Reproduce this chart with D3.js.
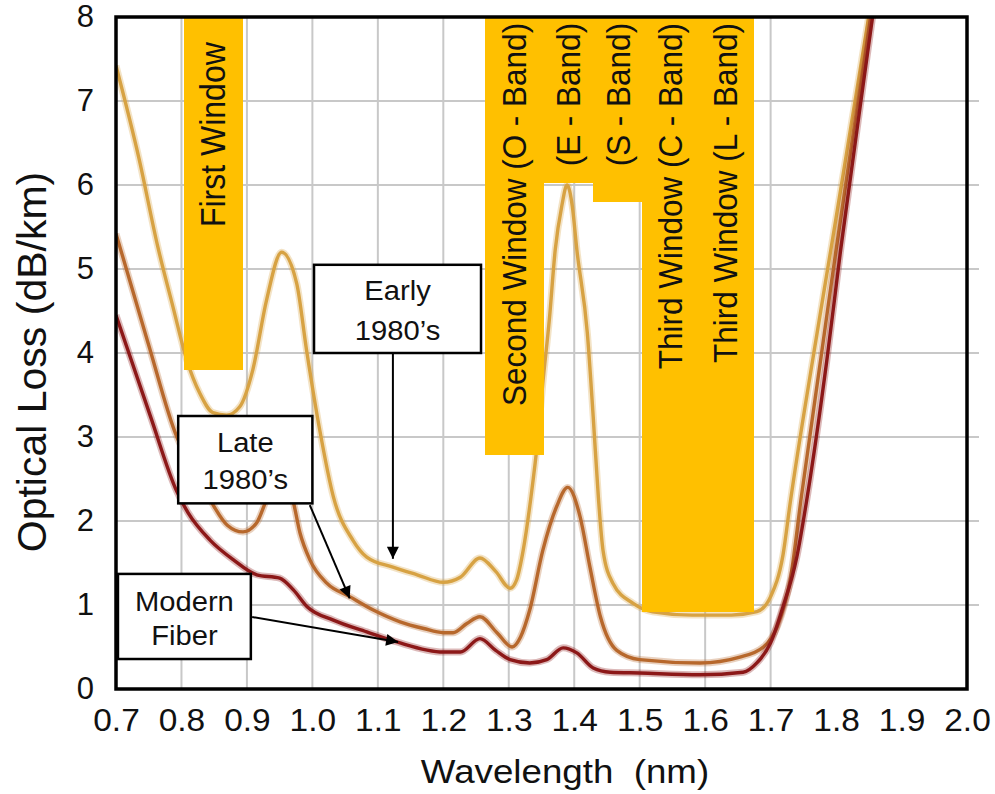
<!DOCTYPE html>
<html>
<head>
<meta charset="utf-8">
<script src="https://cdn.jsdelivr.net/npm/d3@7"></script>
<style>
  html, body { margin: 0; padding: 0; background: #fff; }
  svg { display: block; font-family: "Liberation Sans", Arial, sans-serif; }
</style>
</head>
<body>
<svg id="chart" width="995" height="794"></svg>
<script>
// ---------- data ----------
const xTicks = [0.7, 0.8, 0.9, 1.0, 1.1, 1.2, 1.3, 1.4, 1.5, 1.6, 1.7, 1.8, 1.9, 2.0];
const yTicks = [0, 1, 2, 3, 4, 5, 6, 7, 8];
const xGrid = [0.8, 0.9, 1.0, 1.1, 1.2, 1.3, 1.4, 1.5, 1.6, 1.7];
const yGrid = [1, 2, 3, 4, 5, 6, 7];

const bandNames  = ["First Window", "Second Window (O - Band)", "(E - Band)", "(S - Band)", "Third Window (C - Band)", "Third Window (L - Band)"];
const bandStart  = [0.805, 1.265, 1.351, 1.429, 1.504, 1.59];
const bandEnd    = [0.892, 1.351, 1.429, 1.504, 1.59, 1.672];
const bandBottom = [3.8, 2.79, 6.02, 5.8, 0.92, 0.92];
const bandLabelTop = [7.7, 7.93, 7.93, 7.93, 7.93, 7.93];

const earlyX = [0.70, 0.735, 0.764, 0.787, 0.808, 0.828, 0.848, 0.869, 0.889, 0.909, 0.93, 0.953, 0.976, 0.991, 1.012, 1.032, 1.062, 1.083, 1.123, 1.16, 1.2, 1.226, 1.256, 1.28, 1.302, 1.312, 1.322, 1.334, 1.344, 1.352, 1.362, 1.371, 1.381, 1.389, 1.397, 1.404, 1.42, 1.429, 1.437, 1.444, 1.459, 1.49, 1.52, 1.58, 1.64, 1.679, 1.70, 1.719, 1.73, 1.766, 1.792, 1.849, 1.862];
const earlyY = [7.42, 6.32, 5.26, 4.55, 3.92, 3.52, 3.29, 3.26, 3.36, 3.8, 4.63, 5.2, 4.83, 4.04, 3.05, 2.29, 1.77, 1.57, 1.45, 1.36, 1.27, 1.33, 1.56, 1.4, 1.2, 1.3, 1.65, 2.29, 2.95, 3.64, 4.4, 5.23, 5.75, 6.0, 5.75, 5.23, 4.24, 3.24, 2.27, 1.65, 1.26, 1.02, 0.92, 0.88, 0.88, 0.92, 1.1, 1.6, 2.22, 4.0, 5.23, 7.96, 8.6];

const lateX = [0.70, 0.749, 0.793, 0.82, 0.844, 0.87, 0.894, 0.915, 0.93, 0.95, 0.97, 0.981, 0.996, 1.022, 1.057, 1.093, 1.134, 1.17, 1.2, 1.215, 1.236, 1.256, 1.282, 1.305, 1.318, 1.332, 1.352, 1.373, 1.39, 1.409, 1.424, 1.44, 1.465, 1.5, 1.592, 1.653, 1.689, 1.71, 1.73, 1.747, 1.777, 1.80, 1.852, 1.864];
const lateY = [5.42, 4.12, 3.0, 2.6, 2.25, 1.95, 1.87, 1.98, 2.25, 2.5, 2.25, 1.86, 1.54, 1.26, 1.1, 0.94, 0.8, 0.72, 0.67, 0.67, 0.78, 0.86, 0.67, 0.5, 0.62, 0.94, 1.65, 2.17, 2.4, 2.05, 1.45, 0.86, 0.46, 0.35, 0.31, 0.38, 0.5, 0.74, 1.3, 2.29, 3.95, 5.23, 7.96, 8.6];

const modernX = [0.70, 0.752, 0.793, 0.81, 0.844, 0.879, 0.915, 0.95, 0.971, 0.992, 1.032, 1.083, 1.129, 1.2, 1.226, 1.256, 1.28, 1.302, 1.332, 1.358, 1.383, 1.404, 1.429, 1.455, 1.5, 1.592, 1.658, 1.679, 1.70, 1.719, 1.74, 1.756, 1.786, 1.807, 1.855, 1.866];
const modernY = [4.45, 3.26, 2.35, 2.1, 1.77, 1.54, 1.36, 1.32, 1.18, 0.98, 0.82, 0.68, 0.56, 0.44, 0.44, 0.6, 0.46, 0.35, 0.31, 0.35, 0.49, 0.43, 0.25, 0.2, 0.19, 0.17, 0.2, 0.31, 0.55, 0.98, 1.57, 2.29, 3.92, 5.23, 7.96, 8.6];

const seriesNames  = ["Early 1980's", "Late 1980's", "Modern Fiber"];
const seriesColors = ["#d7a243", "#b7682c", "#8c1818"];

// annotation callouts (data coordinates)
const noteLines = [["Early", "1980\u2019s"], ["Late", "1980\u2019s"], ["Modern", "Fiber"]];
const noteLineGap = [40, 37, 34];
const noteBoxX0 = [1.0025, 0.795, 0.703];
const noteBoxX1 = [1.2576, 1.0, 0.906];
const noteBoxY0 = [5.05, 3.25, 1.37];
const noteBoxY1 = [4.0, 2.21, 0.357];
const arrowFromX = [1.123, 0.996, 0.908];
const arrowFromY = [4.0, 2.19, 0.857];
const arrowToX   = [1.123, 1.057, 1.131];
const arrowToY   = [1.55, 1.08, 0.56];

// ---------- chart ----------
const svg = d3.select("#chart");
const x = d3.scaleLinear().domain([0.7, 2.0]).range([116, 967]);
const y = d3.scaleLinear().domain([0, 8]).range([689, 17]);

const defs = svg.append("defs");
defs.append("clipPath").attr("id", "plotclip").append("rect")
  .attr("x", x(0.7)).attr("y", y(8)).attr("width", x(2.0) - x(0.7)).attr("height", y(0) - y(8));
defs.append("marker").attr("id", "arrow").attr("viewBox", "0 0 10 10")
  .attr("refX", 10).attr("refY", 5).attr("markerWidth", 7.5).attr("markerHeight", 6)
  .attr("markerUnits", "strokeWidth").attr("orient", "auto")
  .append("path").attr("d", "M0,0 L10,5 L0,10 Z").attr("fill", "#000");

// grid
svg.append("g").selectAll("line").data(yGrid).join("line")
  .attr("x1", x(0.7)).attr("x2", x(2.0) + 12)
  .attr("y1", d => y(d)).attr("y2", d => y(d))
  .attr("stroke", "#c8c8c8").attr("stroke-width", 2);
svg.append("g").selectAll("line").data(xGrid).join("line")
  .attr("x1", d => x(d)).attr("x2", d => x(d))
  .attr("y1", y(8)).attr("y2", y(0))
  .attr("stroke", "#c8c8c8").attr("stroke-width", 2);

// curves
const plot = svg.append("g").attr("clip-path", "url(#plotclip)");
const line = d3.line().x(d => x(d[0])).y(d => y(d[1])).curve(d3.curveMonotoneX);
const allSeries = [d3.zip(earlyX, earlyY), d3.zip(lateX, lateY), d3.zip(modernX, modernY)];
allSeries.forEach((s, i) => {
  plot.append("path").datum(s).attr("d", line).attr("fill", "none")
    .attr("stroke", seriesColors[i]).attr("stroke-opacity", 0.3).attr("stroke-width", 7)
    .attr("stroke-linejoin", "round");
  plot.append("path").datum(s).attr("d", line).attr("fill", "none")
    .attr("stroke", seriesColors[i]).attr("stroke-width", 3.4)
    .attr("stroke-linejoin", "round");
});

// band boxes
const bands = bandNames.map((n, i) => ({n, s: bandStart[i], e: bandEnd[i], b: bandBottom[i], t: bandLabelTop[i]}));
svg.append("g").attr("shape-rendering", "crispEdges").selectAll("rect").data(bands).join("rect")
  .attr("x", d => Math.floor(x(d.s))).attr("width", d => Math.ceil(x(d.e)) - Math.floor(x(d.s)) + 1)
  .attr("y", y(8)).attr("height", d => y(d.b) - y(8))
  .attr("fill", "#ffc000");
svg.append("g").selectAll("text").data(bands).join("text")
  .attr("transform", d => `translate(${x((d.s + d.e) / 2)},${y(d.t)}) rotate(-90) scale(1,1.08)`)
  .attr("text-anchor", "end").attr("dominant-baseline", "central")
  .attr("font-size", d => d.n === "First Window" ? 32 : 31.5).attr("fill", "#111")
  .text(d => d.n);

// frame
svg.append("rect").attr("x", x(0.7)).attr("y", y(8))
  .attr("width", x(2.0) - x(0.7)).attr("height", y(0) - y(8))
  .attr("fill", "none").attr("stroke", "#000").attr("stroke-width", 3.5);

// axes
const xAxis = svg.append("g").attr("transform", `translate(0,${y(0)})`)
  .call(d3.axisBottom(x).tickValues(xTicks).tickSize(0).tickPadding(20).tickFormat(d3.format(".1f")));
xAxis.select(".domain").remove();
xAxis.selectAll("text").attr("font-size", 31).attr("fill", "#111")
  .attr("font-family", "Liberation Sans, Arial, sans-serif").attr("transform", "scale(1.08,1)");

const yAxis = svg.append("g").attr("transform", `translate(${x(0.7)},0)`)
  .call(d3.axisLeft(y).tickValues(yTicks).tickSize(0).tickPadding(22).tickFormat(d3.format("d")));
yAxis.select(".domain").remove();
yAxis.selectAll("text").attr("font-size", 31).attr("fill", "#111")
  .attr("font-family", "Liberation Sans, Arial, sans-serif");

// axis titles
svg.append("text").attr("transform", "translate(565,783) scale(1.08,1)")
  .attr("text-anchor", "middle").attr("font-size", 34).attr("fill", "#111")
  .text("Wavelength\u00a0 (nm)");
svg.append("text").attr("transform", "translate(32,362) rotate(-90)")
  .attr("text-anchor", "middle").attr("dominant-baseline", "central")
  .attr("font-size", 41).attr("fill", "#111")
  .text("Optical Loss (dB/km)");

// callouts
const notes = noteLines.map((l, i) => ({l, g: noteLineGap[i], x0: noteBoxX0[i], x1: noteBoxX1[i], y0: noteBoxY0[i], y1: noteBoxY1[i],
  ax: arrowFromX[i], ay: arrowFromY[i], bx: arrowToX[i], by: arrowToY[i]}));
const ng = svg.append("g");
ng.selectAll("line").data(notes).join("line")
  .attr("x1", d => x(d.ax)).attr("y1", d => y(d.ay))
  .attr("x2", d => x(d.bx)).attr("y2", d => y(d.by))
  .attr("stroke", "#000").attr("stroke-width", 2).attr("marker-end", "url(#arrow)");
ng.selectAll("rect").data(notes).join("rect")
  .attr("x", d => x(d.x0)).attr("y", d => y(d.y0))
  .attr("width", d => x(d.x1) - x(d.x0)).attr("height", d => y(d.y1) - y(d.y0))
  .attr("fill", "#fff").attr("stroke", "#000").attr("stroke-width", 2.5);
notes.forEach(d => {
  const cx = (x(d.x0) + x(d.x1)) / 2, cy = (y(d.y0) + y(d.y1)) / 2;
  d.l.forEach((t, j) => {
    ng.append("text").attr("transform", `translate(${cx},${cy + (j - 0.5) * d.g + 2}) scale(1.08,1)`)
      .attr("text-anchor", "middle").attr("dominant-baseline", "central")
      .attr("font-size", 27).attr("fill", "#111").text(t);
  });
});
</script>
</body>
</html>
